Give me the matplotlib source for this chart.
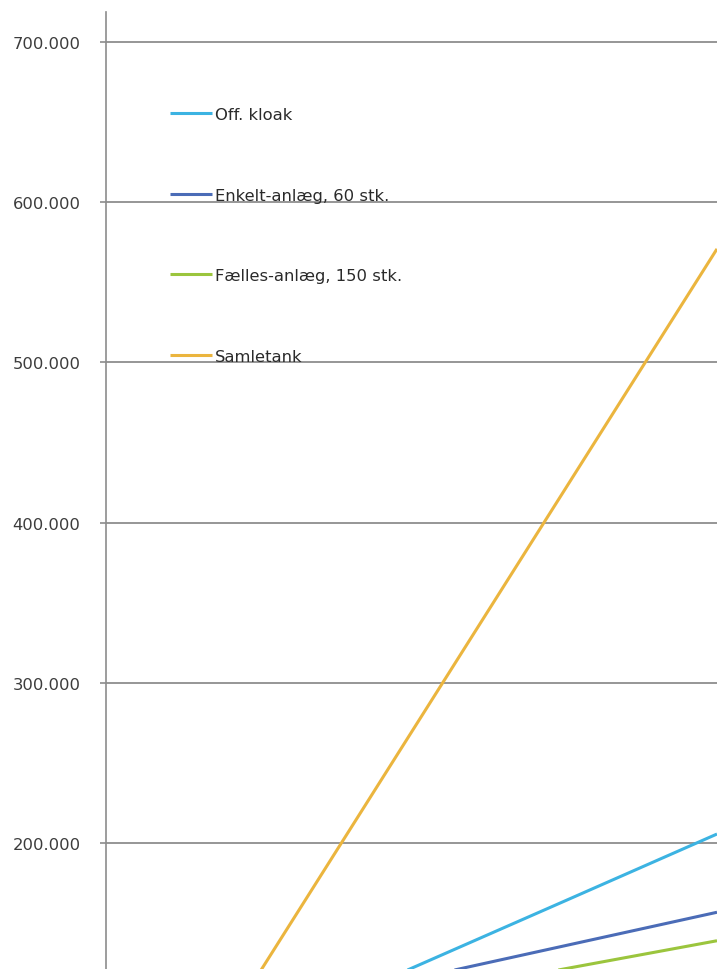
import matplotlib.pyplot as plt
from matplotlib.ticker import FuncFormatter, FixedLocator

# Data (år, kr.) - udsnit af diagrammet
aar = [5, 10, 15, 20]
off_kloak = [79500, 121400, 163300, 205300]
enkelt_anlaeg = [93400, 114400, 135400, 156400]
faelles_anlaeg = [85600, 103300, 121000, 138600]
samletank = [118000, 269000, 420000, 571000]

serier = [
    ('Off. kloak', off_kloak, '#3cb3e2'),
    ('Enkelt-anlæg, 60 stk.', enkelt_anlaeg, '#4b6cb7'),
    ('Fælles-anlæg, 150 stk.', faelles_anlaeg, '#9bc53d'),
    ('Samletank', samletank, '#ebb53e'),
]
y_ticks = [200000, 300000, 400000, 500000, 600000, 700000]

W, H = 717, 970
fig = plt.figure(figsize=(W / 100, H / 100), dpi=100)
ax = fig.add_axes([106 / W, 0, 1 - 106 / W, (H - 13) / H])

for navn, vaerdier, farve in serier:
    ax.plot(aar, vaerdier, color=farve, linewidth=2.2, label=navn,
            solid_capstyle='butt', zorder=3)

ax.set_xlim(0, 20)
ax.set_ylim(120940, 719060)

ax.yaxis.set_major_locator(FixedLocator(y_ticks))
ax.yaxis.set_major_formatter(
    FuncFormatter(lambda v, _: f"{v:,.0f}".replace(',', '.')))
ax.grid(axis='y', color='#969696', linewidth=1.4, zorder=1)
ax.set_xticks([])

for side in ['top', 'right', 'bottom']:
    ax.spines[side].set_visible(False)
ax.spines['left'].set_color('#8c8c8c')
ax.spines['left'].set_linewidth(1.2)
ax.tick_params(axis='y', direction='out', length=4.3, width=1.2,
               color='#8c8c8c', pad=14, labelsize=11.8, labelcolor='#3c3c3c')

# forklaring uden ramme, inde i plotområdet
leg = ax.legend(loc='upper left', bbox_to_anchor=(170 / W, 1 - 108 / H),
                bbox_transform=fig.transFigure, frameon=False,
                fontsize=11.8, handlelength=2.56, handletextpad=0.18,
                labelspacing=4.0, borderpad=0, borderaxespad=0)
for t in leg.get_texts():
    t.set_color('#2a2a2a')

plt.savefig('out.png', dpi=100)
plt.close()
